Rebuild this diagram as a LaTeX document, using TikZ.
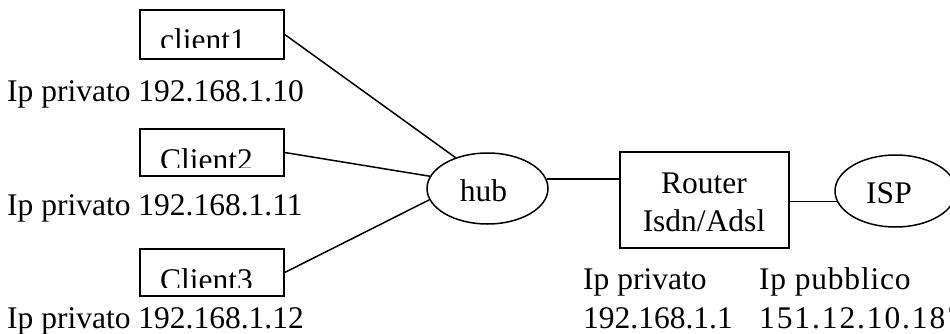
\documentclass[tikz,border=0pt]{standalone}
\usepackage{fontspec}
\setmainfont{Liberation Serif}
\usetikzlibrary{shapes.geometric}
\tikzset{
  box/.style={draw, rectangle, inner sep=0pt, line width=1.5pt},
  oval/.style={draw, ellipse, inner sep=0pt, line width=1.5pt},
  lbl/.style={anchor=base west, inner sep=0pt, font=\fontsize{31.5}{36}\selectfont},
  link/.style={line width=1.5pt}
}
\begin{document}
\begin{tikzpicture}[x=1pt,y=-1pt]
\useasboundingbox (0,0) rectangle (950,334);
\clip (0,0) rectangle (950,334);
% client boxes
\node[box, minimum width=144pt, minimum height=49pt] (c1) at (212,34.5) {};
\node[box, minimum width=144pt, minimum height=47pt] (c2) at (212,152.5) {};
\node[box, minimum width=144pt, minimum height=47pt] (c3) at (212,272.5) {};
\begin{scope}
  \clip (141,11) rectangle (283,48);
  \node[lbl] (t1) at (160,51) {client1};
\end{scope}
\begin{scope}
  \clip (141,130) rectangle (283,167.5);
  \node[lbl] (t2) at (160,170) {Client2};
\end{scope}
\begin{scope}
  \clip (141,250) rectangle (283,287.5);
  \node[lbl] (t3) at (160,290) {Client3};
\end{scope}
% ip labels
\node[lbl] (ip1) at (7,101.5) {Ip privato 192.168.1.10};
\node[lbl] (ip2) at (7,215) {Ip privato 192.168.1.11};
\node[lbl] (ip3) at (7,328) {Ip privato 192.168.1.12};
% hub
\node[oval, minimum width=121pt, minimum height=71pt] (hub) at (487.5,188.5) {};
\node[lbl, anchor=base] (hubt) at (483.5,201) {hub};
% router
\node[box, minimum width=169pt, minimum height=96pt] (router) at (704.5,200) {};
\node[lbl, anchor=base] (rt1) at (704,193) {Router};
\node[lbl, anchor=base] (rt2) at (704,231) {Isdn/Adsl};
% isp
\node[oval, minimum width=121pt, minimum height=72pt] (isp) at (895.5,191) {};
\node[lbl, anchor=base] (ispt) at (889,203) {ISP};
% bottom labels
\node[lbl] (pr1) at (583,289) {Ip privato};
\node[lbl] (pr2) at (583,328) {192.168.1.1};
\node[lbl] (pu1) at (759,289) {\addfontfeature{LetterSpace=2.5}Ip pubblico};
\node[lbl] (pu2) at (759,328) {\addfontfeature{LetterSpace=6}151.12.10.187};
% connectors
\draw[link] (c1.east) -- (hub.136);
\draw[link] (c2.east) -- (hub.168);
\draw[link] (c3.east) -- (hub.191);
\draw[link] (hub.9) -- (hub.9 -| router.west);
\draw[link] (isp.190) -- (isp.190 -| router.east);
\end{tikzpicture}
\end{document}
